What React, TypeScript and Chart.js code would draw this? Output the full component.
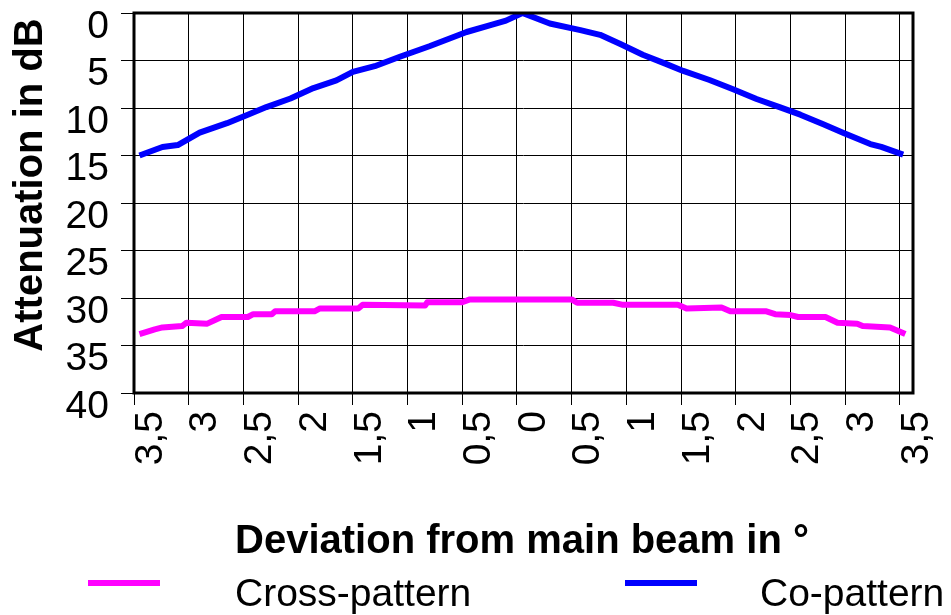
import React, { useEffect, useRef } from "react";
import { Chart, registerables } from "chart.js";

Chart.register(...registerables);

// Axis ticks (deviation in degrees, attenuation in dB)
const deviationTicks = [-3.5, -3, -2.5, -2, -1.5, -1, -0.5, 0, 0.5, 1, 1.5, 2, 2.5, 3, 3.5];
const deviationTickLabels = ["3,5", "3", "2,5", "2", "1,5", "1", "0,5", "0", "0,5", "1", "1,5", "2", "2,5", "3", "3,5"];
const attenuationTicks = [0, 5, 10, 15, 20, 25, 30, 35, 40];

// Cross-polar pattern
const crossDeg = [-3.45, -3.31, -3.24, -3.06, -3.02, -2.83, -2.7, -2.46, -2.41, -2.24, -2.21, -1.85, -1.8, -1.45, -1.41, -0.84, -0.82, -0.5, -0.43, 0.5, 0.55, 0.88, 0.96, 1.47, 1.55, 1.87, 1.95, 2.28, 2.36, 2.5, 2.57, 2.82, 2.93, 3.11, 3.16, 3.41, 3.55];
const crossDb = [33.8, 33.3, 33.1, 32.95, 32.6, 32.7, 32.0, 32.0, 31.7, 31.7, 31.4, 31.4, 31.1, 31.1, 30.7, 30.8, 30.45, 30.45, 30.15, 30.15, 30.5, 30.5, 30.7, 30.7, 31.1, 31.0, 31.4, 31.4, 31.7, 31.8, 32.0, 32.0, 32.6, 32.7, 32.95, 33.1, 33.8];

// Co-polar pattern
const coDeg = [-3.45, -3.24, -3.1, -2.9, -2.65, -2.46, -2.29, -2.07, -1.86, -1.65, -1.5, -1.3, -1.07, -0.8, -0.46, -0.25, -0.1, 0.05, 0.3, 0.58, 0.76, 0.95, 1.15, 1.35, 1.52, 1.76, 1.97, 2.19, 2.4, 2.59, 2.8, 2.98, 3.23, 3.33, 3.53];
const coDb = [15.0, 14.1, 13.9, 12.6, 11.6, 10.7, 9.9, 9.0, 7.9, 7.1, 6.2, 5.6, 4.6, 3.5, 2.0, 1.3, 0.8, 0.0, 1.1, 1.8, 2.3, 3.3, 4.4, 5.3, 6.1, 7.05, 8.0, 9.05, 9.9, 10.7, 11.7, 12.6, 13.8, 14.1, 14.9];

const seriesNames = ["Cross-pattern", "Co-pattern"];
const seriesColors = ["#ff00ff", "#0000ff"];

const xTitle = "Deviation from main beam in °";
const yTitle = "Attenuation in dB";

const FONT = "'Liberation Sans', Arial, Helvetica, sans-serif";

// Thick frame around the plotting area
const framePlugin = {
  id: "frame",
  afterDatasetsDraw(chart: any) {
    const { ctx, chartArea: a } = chart;
    ctx.save();
    ctx.strokeStyle = "#000";
    ctx.lineWidth = 3;
    ctx.strokeRect(a.left, a.top, a.right - a.left, a.bottom - a.top);
    ctx.restore();
  },
};

// Axis titles and the legend row underneath
const annotationPlugin = {
  id: "annotations",
  afterDraw(chart: any) {
    const { ctx, chartArea: a } = chart;
    ctx.save();
    ctx.fillStyle = "#000";

    // y title, rotated
    ctx.font = `bold 40px ${FONT}`;
    ctx.save();
    ctx.translate(42, 185);
    ctx.rotate(-Math.PI / 2);
    ctx.textAlign = "center";
    ctx.textBaseline = "alphabetic";
    ctx.fillText(yTitle, 0, 0);
    ctx.restore();

    // x title
    ctx.textAlign = "center";
    ctx.textBaseline = "alphabetic";
    ctx.fillText(xTitle, 522, 553);

    // legend
    const items = [
      { lineX: 88, textX: 235 },
      { lineX: 625, textX: 760 },
    ];
    ctx.font = `39px ${FONT}`;
    ctx.textAlign = "left";
    chart.data.datasets.forEach((ds: any, i: number) => {
      const it = items[i];
      ctx.strokeStyle = ds.borderColor;
      ctx.lineWidth = 6;
      ctx.beginPath();
      ctx.moveTo(it.lineX, 583);
      ctx.lineTo(it.lineX + 72, 583);
      ctx.stroke();
      ctx.fillText(ds.label, it.textX, 606);
    });
    ctx.restore();
  },
};

export default function App() {
  const canvasRef = useRef<HTMLCanvasElement | null>(null);

  useEffect(() => {
    const canvas = canvasRef.current;
    if (!canvas) return;

    const datasets = [
      {
        label: seriesNames[0],
        data: crossDeg.map((x, i) => ({ x, y: crossDb[i] })),
        borderColor: seriesColors[0],
        backgroundColor: seriesColors[0],
      },
      {
        label: seriesNames[1],
        data: coDeg.map((x, i) => ({ x, y: coDb[i] })),
        borderColor: seriesColors[1],
        backgroundColor: seriesColors[1],
      },
    ].map((d) => ({
      ...d,
      borderWidth: 6,
      pointRadius: 0,
      tension: 0,
      fill: false,
      borderJoinStyle: "round" as const,
    }));

    const chart = new Chart(canvas, {
      type: "line",
      data: { datasets },
      plugins: [framePlugin, annotationPlugin],
      options: {
        responsive: false,
        animation: false,
        devicePixelRatio: 1,
        layout: { padding: { top: 13, right: 38, bottom: 0, left: 0 } },
        plugins: {
          legend: { display: false },
          tooltip: { enabled: false },
        },
        scales: {
          x: {
            type: "linear",
            min: -3.5,
            max: 3.62,
            afterBuildTicks: (scale: any) => {
              scale.ticks = deviationTicks.map((v) => ({ value: v }));
            },
            afterFit: (scale: any) => {
              scale.height = 222;
              scale.paddingLeft = 0;
              scale.paddingRight = 0;
              scale.paddingTop = 0;
              scale.paddingBottom = 0;
            },
            grid: {
              color: "#000",
              lineWidth: 1,
              drawTicks: true,
              tickLength: 12,
              tickColor: "#000",
            },
            border: { display: false },
            ticks: {
              autoSkip: false,
              minRotation: 90,
              maxRotation: 90,
              padding: 6,
              labelOffset: 17,
              color: "#000",
              font: { family: FONT, size: 39 },
              callback: (_v: any, index: number) => deviationTickLabels[index],
            },
          },
          y: {
            type: "linear",
            reverse: true,
            min: 0,
            max: 40,
            afterBuildTicks: (scale: any) => {
              scale.ticks = attenuationTicks.map((v) => ({ value: v }));
            },
            afterFit: (scale: any) => {
              scale.width = 134;
              scale.paddingLeft = 0;
              scale.paddingRight = 0;
              scale.paddingTop = 0;
              scale.paddingBottom = 0;
            },
            grid: {
              color: "#000",
              lineWidth: 1,
              drawTicks: true,
              tickLength: 13,
              tickColor: "#000",
            },
            border: { display: false },
            ticks: {
              autoSkip: false,
              padding: 12,
              labelOffset: 14,
              color: "#000",
              font: { family: FONT, size: 39 },
              callback: (v: any) => String(v),
            },
          },
        },
      },
    });

    return () => chart.destroy();
  }, []);

  return (
    <div style={{ position: "fixed", left: 0, top: 0, width: 951, height: 615, background: "#fff" }}>
      <canvas ref={canvasRef} width={951} height={615} style={{ display: "block", width: 951, height: 615 }} />
    </div>
  );
}
